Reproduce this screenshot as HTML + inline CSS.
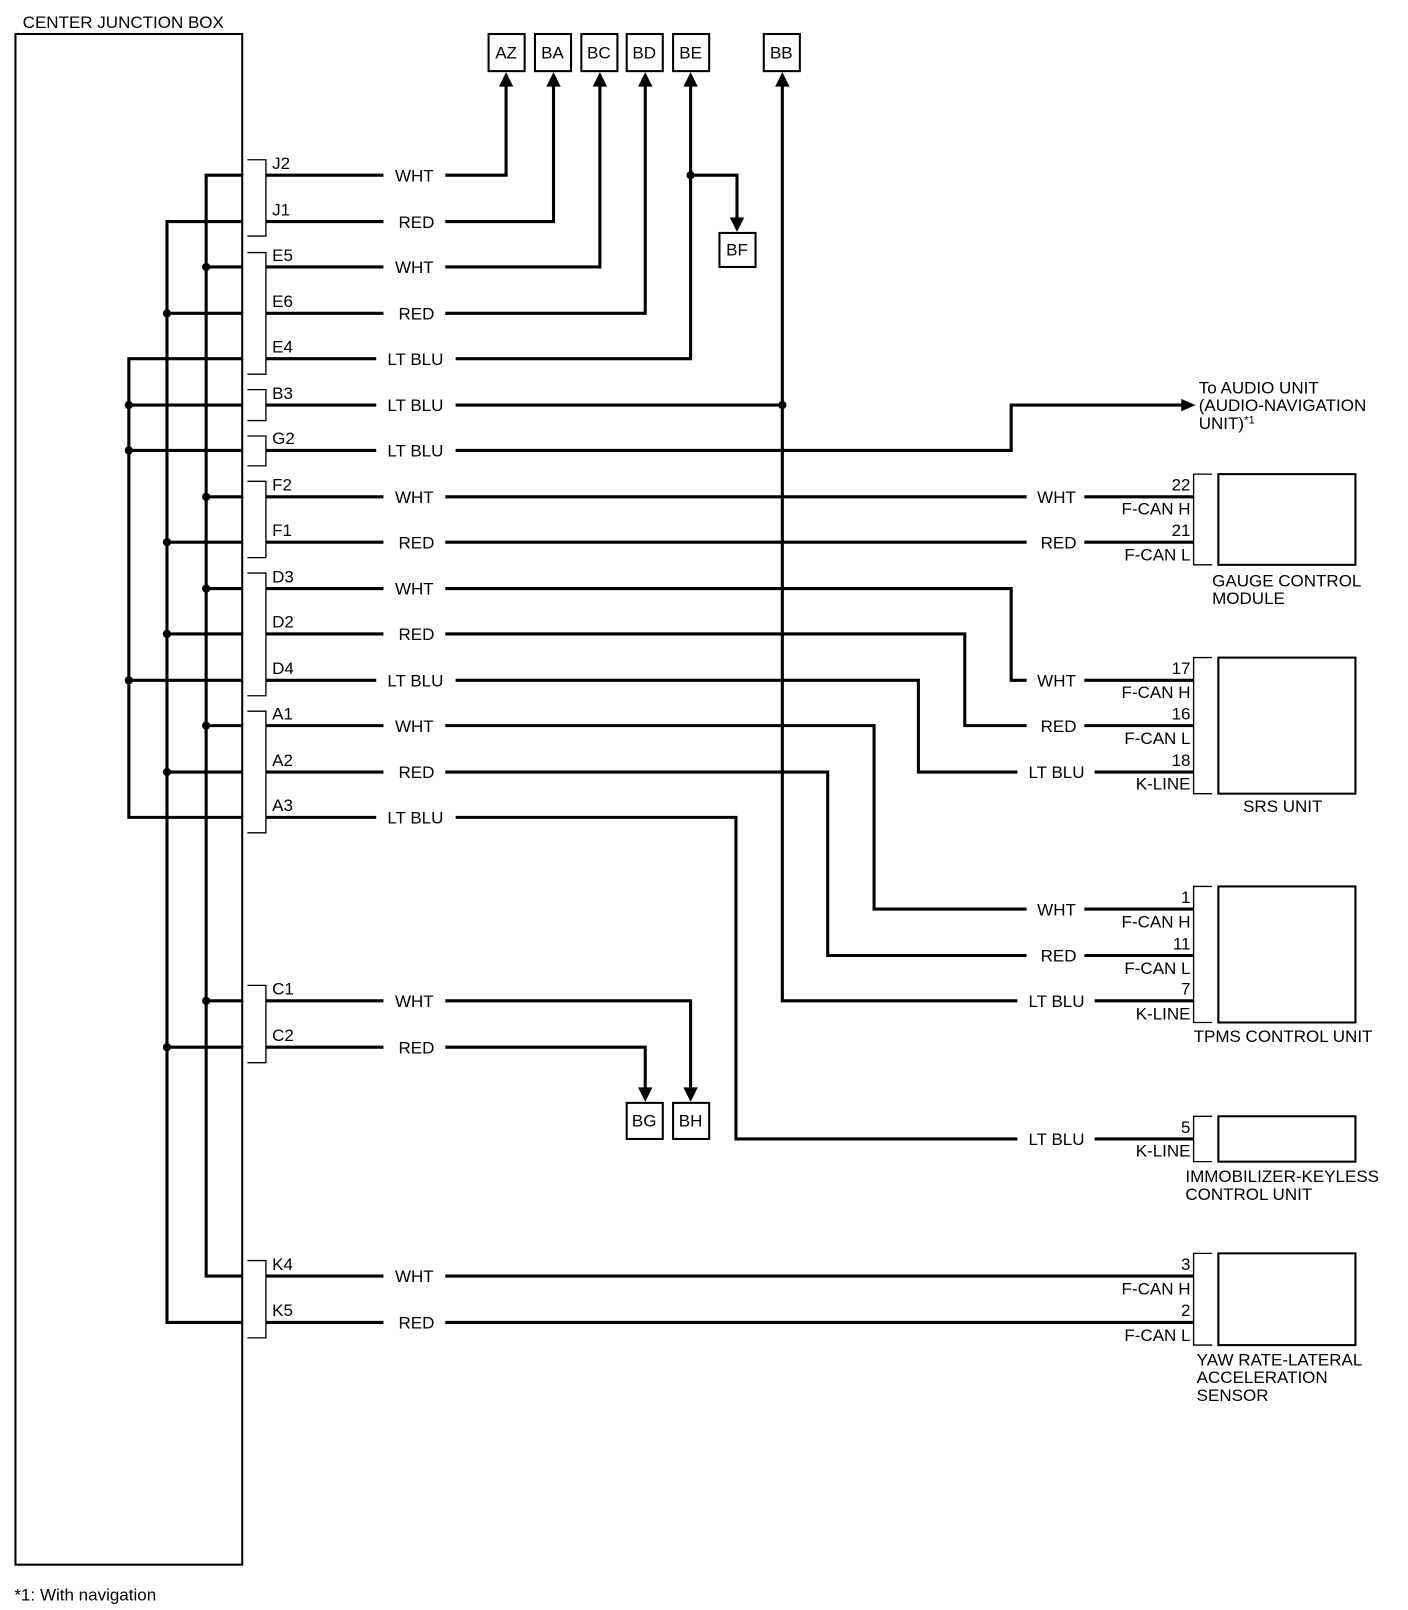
<!DOCTYPE html>
<html><head><meta charset="utf-8"><style>
html,body{margin:0;padding:0;background:#fff}
svg{display:block}
text{font-family:"Liberation Sans",sans-serif;font-size:16.5px;fill:#000}
.w{stroke:#000;stroke-width:3;fill:none}
.t{stroke:#000;stroke-width:1.3;fill:none}
.b{stroke:#000;stroke-width:2;fill:none}
</style></head><body>
<svg width="1408" height="1610" viewBox="0 0 1366 1562" preserveAspectRatio="none">
<text x="22" y="27">CENTER JUNCTION BOX</text>
<rect class="b" x="15" y="33" width="220" height="1485"/>

<g class="t">
<path d="M240 155H258V229H240"/>
<path d="M240 245H258V363H240"/>
<path d="M240 378H258V408H240"/>
<path d="M240 423H258V452H240"/>
<path d="M240 467H258V541H240"/>
<path d="M240 556H258V675H240"/>
<path d="M240 690H258V808H240"/>
<path d="M240 956H258V1031H240"/>
<path d="M240 1223H258V1298H240"/>
</g>
<g>
<text x="264" y="164">J2</text><text x="264" y="209">J1</text>
<text x="264" y="253">E5</text><text x="264" y="298">E6</text><text x="264" y="342">E4</text>
<text x="264" y="387">B3</text><text x="264" y="431">G2</text>
<text x="264" y="476">F2</text><text x="264" y="520">F1</text>
<text x="264" y="565">D3</text><text x="264" y="609">D2</text><text x="264" y="654">D4</text>
<text x="264" y="698">A1</text><text x="264" y="743">A2</text><text x="264" y="787">A3</text>
<text x="264" y="965">C1</text><text x="264" y="1010">C2</text>
<text x="264" y="1232">K4</text><text x="264" y="1277">K5</text>
</g>

<g class="w">
<path d="M235 170H200V1238H235"/>
<path d="M235 215H162V1283H235"/>
<path d="M235 348H125V793H235"/>
<path d="M125 393H235M125 437H235M125 660H235"/>
<path d="M162 304H235M162 526H235M162 615H235M162 749H235M162 1016H235"/>
<path d="M200 259H235M200 482H235M200 571H235M200 704H235M200 971H235"/>
</g>
<g>
<circle cx="200" cy="259" r="4"/><circle cx="200" cy="482" r="4"/><circle cx="200" cy="571" r="4"/><circle cx="200" cy="704" r="4"/><circle cx="200" cy="971" r="4"/>
<circle cx="162" cy="304" r="4"/><circle cx="162" cy="526" r="4"/><circle cx="162" cy="615" r="4"/><circle cx="162" cy="749" r="4"/><circle cx="162" cy="1016" r="4"/>
<circle cx="125" cy="393" r="4"/><circle cx="125" cy="437" r="4"/><circle cx="125" cy="660" r="4"/>
<circle cx="670" cy="170" r="4"/><circle cx="759" cy="393" r="4"/>
</g>

<g class="b">
<rect x="474" y="33" width="35" height="36"/><rect x="519" y="33" width="35" height="36"/>
<rect x="564" y="33" width="35" height="36"/><rect x="608" y="33" width="35" height="36"/>
<rect x="653" y="33" width="35" height="36"/><rect x="741" y="33" width="35" height="36"/>
<rect x="698" y="226" width="35" height="33"/>
<rect x="608" y="1070" width="35" height="35"/><rect x="653" y="1070" width="35" height="35"/>
</g>
<g text-anchor="middle">
<text x="491" y="57">AZ</text><text x="536" y="57">BA</text><text x="581" y="57">BC</text>
<text x="625" y="57">BD</text><text x="670" y="57">BE</text><text x="758" y="57">BB</text>
<text x="715" y="248">BF</text><text x="625" y="1093">BG</text><text x="670" y="1093">BH</text>
</g>
<g>
<path d="M484 84L491 70L498 84Z"/><path d="M530 84L537 70L544 84Z"/><path d="M575 84L582 70L589 84Z"/>
<path d="M619 84L626 70L633 84Z"/><path d="M663 84L670 70L677 84Z"/><path d="M752 84L759 70L766 84Z"/>
<path d="M708 211L715 225L722 211Z"/>
<path d="M619 1055L626 1069L633 1055Z"/><path d="M663 1055L670 1069L677 1055Z"/>
<path d="M1146 387L1160 393L1146 399Z"/>
</g>

<g class="w">
<path d="M258 170H372M432 170H491V82"/>
<path d="M258 215H372M432 215H537V82"/>
<path d="M258 259H372M432 259H582V82"/>
<path d="M258 304H372M432 304H626V82"/>
<path d="M258 348H365M442 348H670V82"/>
<path d="M670 170H715V212"/>
<path d="M258 393H365M442 393H759"/>
<path d="M759 82V971H987M1062 971H1158"/>
<path d="M258 437H365M442 437H981V393H1148"/>
<path d="M258 482H372M432 482H996M1052 482H1158"/>
<path d="M258 526H372M432 526H996M1052 526H1158"/>
<path d="M258 571H372M432 571H981V660H996M1052 660H1158"/>
<path d="M258 615H372M432 615H936V704H996M1052 704H1158"/>
<path d="M258 660H365M442 660H891V749H987M1062 749H1158"/>
<path d="M258 704H372M432 704H848V882H996M1052 882H1158"/>
<path d="M258 749H372M432 749H803V927H996M1052 927H1158"/>
<path d="M258 793H365M442 793H714V1105H987M1062 1105H1158"/>
<path d="M258 971H372M432 971H670V1057"/>
<path d="M258 1016H372M432 1016H626V1057"/>
<path d="M258 1238H372M432 1238H1158"/>
<path d="M258 1283H372M432 1283H1158"/>
</g>
<g text-anchor="middle">
<text x="402" y="176">WHT</text><text x="404" y="221">RED</text>
<text x="402" y="265">WHT</text><text x="404" y="310">RED</text><text x="403" y="354">LT BLU</text>
<text x="403" y="399">LT BLU</text><text x="403" y="443">LT BLU</text>
<text x="402" y="488">WHT</text><text x="404" y="532">RED</text>
<text x="402" y="577">WHT</text><text x="404" y="621">RED</text><text x="403" y="666">LT BLU</text>
<text x="402" y="710">WHT</text><text x="404" y="755">RED</text><text x="403" y="799">LT BLU</text>
<text x="402" y="977">WHT</text><text x="404" y="1022">RED</text>
<text x="402" y="1244">WHT</text><text x="404" y="1289">RED</text>
<text x="1025" y="488">WHT</text><text x="1027" y="532">RED</text>
<text x="1025" y="666">WHT</text><text x="1027" y="710">RED</text><text x="1025" y="755">LT BLU</text>
<text x="1025" y="888">WHT</text><text x="1027" y="933">RED</text><text x="1025" y="977">LT BLU</text>
<text x="1025" y="1111">LT BLU</text>
</g>

<text x="1163" y="382">To AUDIO UNIT</text>
<text x="1163" y="399">(AUDIO-NAVIGATION</text>
<text x="1163" y="416">UNIT)<tspan font-size="11" dy="-5">*1</tspan></text>

<g class="t">
<path d="M1176 460H1158V548H1176"/>
<path d="M1176 638H1158V770H1176"/>
<path d="M1176 860H1158V992H1176"/>
<path d="M1176 1083H1158V1127H1176"/>
<path d="M1176 1216H1158V1305H1176"/>
</g>
<g class="b">
<rect x="1182" y="460" width="133" height="88"/>
<rect x="1182" y="638" width="133" height="132"/>
<rect x="1182" y="860" width="133" height="132"/>
<rect x="1182" y="1083" width="133" height="44"/>
<rect x="1182" y="1216" width="133" height="89"/>
</g>
<g text-anchor="end">
<text x="1155" y="476">22</text><text x="1155" y="499">F-CAN H</text>
<text x="1155" y="520">21</text><text x="1155" y="544">F-CAN L</text>
<text x="1155" y="654">17</text><text x="1155" y="677">F-CAN H</text>
<text x="1155" y="698">16</text><text x="1155" y="722">F-CAN L</text>
<text x="1155" y="743">18</text><text x="1155" y="766">K-LINE</text>
<text x="1155" y="876">1</text><text x="1155" y="900">F-CAN H</text>
<text x="1155" y="921">11</text><text x="1155" y="945">F-CAN L</text>
<text x="1155" y="965">7</text><text x="1155" y="989">K-LINE</text>
<text x="1155" y="1099">5</text><text x="1155" y="1122">K-LINE</text>
<text x="1155" y="1232">3</text><text x="1155" y="1256">F-CAN H</text>
<text x="1155" y="1277">2</text><text x="1155" y="1301">F-CAN L</text>
</g>
<text x="1176" y="569">GAUGE CONTROL</text><text x="1176" y="586">MODULE</text>
<text x="1206" y="788">SRS UNIT</text>
<text x="1158" y="1011">TPMS CONTROL UNIT</text>
<text x="1150" y="1147">IMMOBILIZER-KEYLESS</text><text x="1150" y="1164">CONTROL UNIT</text>
<text x="1161" y="1325">YAW RATE-LATERAL</text><text x="1161" y="1342">ACCELERATION</text><text x="1161" y="1359">SENSOR</text>

<text x="14" y="1553" font-size="19.5">*1:  With navigation</text>
</svg>
</body></html>
